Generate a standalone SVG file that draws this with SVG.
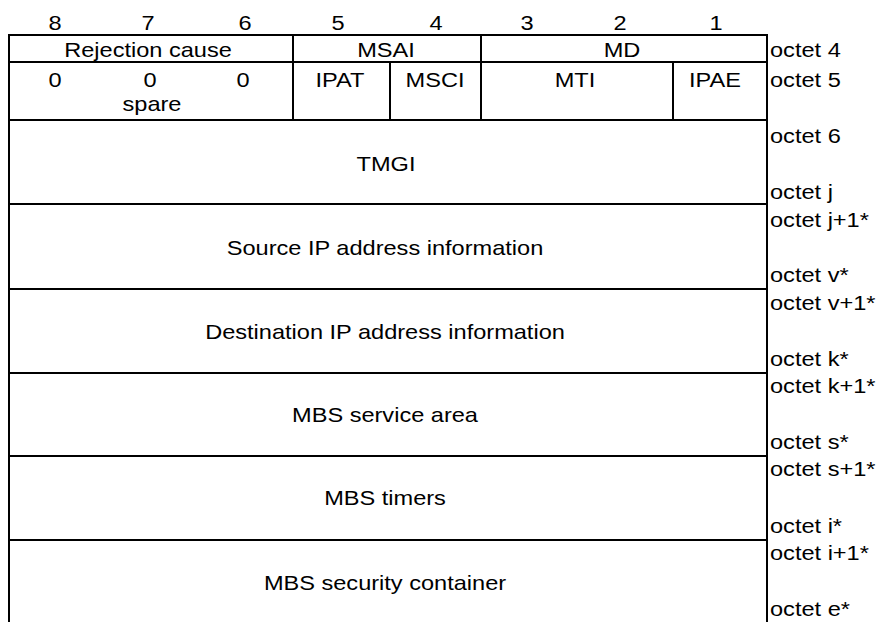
<svg xmlns="http://www.w3.org/2000/svg" width="878" height="622" viewBox="0 0 878 622">
<style>
rect{fill:#fff;stroke:#000;stroke-width:2}
text{font-family:"Liberation Sans",Arial,sans-serif;font-size:20.5px;fill:#000}
.c{text-anchor:middle}
.l{text-anchor:start}
</style>
<rect x="0" y="0" width="878" height="622" style="stroke:none"/>
<g id="bits">
<text class="c" transform="translate(55,29.5) scale(1.15,1)">8</text>
<text class="c" transform="translate(148,29.5) scale(1.15,1)">7</text>
<text class="c" transform="translate(245,29.5) scale(1.15,1)">6</text>
<text class="c" transform="translate(338,29.5) scale(1.15,1)">5</text>
<text class="c" transform="translate(436,29.5) scale(1.15,1)">4</text>
<text class="c" transform="translate(527,29.5) scale(1.15,1)">3</text>
<text class="c" transform="translate(620,29.5) scale(1.15,1)">2</text>
<text class="c" transform="translate(716,29.5) scale(1.15,1)">1</text>
</g>
<g id="rejection-cause"><rect x="9" y="35" width="284" height="27"/><text class="c" transform="translate(148,57) scale(1.15,1)">Rejection cause</text></g>
<g id="msai"><rect x="293" y="35" width="188" height="27"/><text class="c" transform="translate(386,57) scale(1.15,1)">MSAI</text></g>
<g id="md"><rect x="481" y="35" width="286" height="27"/><text class="c" transform="translate(622,57) scale(1.15,1)">MD</text></g>
<g id="spare"><rect x="9" y="62" width="284" height="58"/>
<text class="c" transform="translate(55,87) scale(1.15,1)">0</text>
<text class="c" transform="translate(150,87) scale(1.15,1)">0</text>
<text class="c" transform="translate(243,87) scale(1.15,1)">0</text>
<text class="c" transform="translate(152,111) scale(1.15,1)">spare</text></g>
<g id="ipat"><rect x="293" y="62" width="97" height="58"/><text class="c" transform="translate(340,87) scale(1.15,1)">IPAT</text></g>
<g id="msci"><rect x="390" y="62" width="91" height="58"/><text class="c" transform="translate(435,87) scale(1.15,1)">MSCI</text></g>
<g id="mti"><rect x="481" y="62" width="192" height="58"/><text class="c" transform="translate(575,87) scale(1.15,1)">MTI</text></g>
<g id="ipae"><rect x="673" y="62" width="94" height="58"/><text class="c" transform="translate(715,87) scale(1.15,1)">IPAE</text></g>
<g id="tmgi"><rect x="9" y="120" width="758" height="84"/><text class="c" transform="translate(386,170.5) scale(1.15,1)">TMGI</text></g>
<g id="source-ip"><rect x="9" y="204" width="758" height="85"/><text class="c" transform="translate(385,255) scale(1.15,1)">Source IP address information</text></g>
<g id="destination-ip"><rect x="9" y="289" width="758" height="84"/><text class="c" transform="translate(385,339) scale(1.15,1)">Destination IP address information</text></g>
<g id="mbs-service-area"><rect x="9" y="373" width="758" height="83"/><text class="c" transform="translate(385,422) scale(1.15,1)">MBS service area</text></g>
<g id="mbs-timers"><rect x="9" y="456" width="758" height="84"/><text class="c" transform="translate(385,505) scale(1.15,1)">MBS timers</text></g>
<g id="mbs-security-container"><rect x="9" y="540" width="758" height="90"/><text class="c" transform="translate(385,590) scale(1.15,1)">MBS security container</text></g>
<g id="octets">
<text class="l" transform="translate(770,57) scale(1.15,1)">octet 4</text>
<text class="l" transform="translate(770,87) scale(1.15,1)">octet 5</text>
<text class="l" transform="translate(770,143) scale(1.15,1)">octet 6</text>
<text class="l" transform="translate(770,199) scale(1.15,1)">octet j</text>
<text class="l" transform="translate(770,226.5) scale(1.15,1)">octet j+1*</text>
<text class="l" transform="translate(770,282) scale(1.15,1)">octet v*</text>
<text class="l" transform="translate(770,310) scale(1.15,1)">octet v+1*</text>
<text class="l" transform="translate(770,366) scale(1.15,1)">octet k*</text>
<text class="l" transform="translate(770,393) scale(1.15,1)">octet k+1*</text>
<text class="l" transform="translate(770,449) scale(1.15,1)">octet s*</text>
<text class="l" transform="translate(770,476) scale(1.15,1)">octet s+1*</text>
<text class="l" transform="translate(770,533) scale(1.15,1)">octet i*</text>
<text class="l" transform="translate(770,560) scale(1.15,1)">octet i+1*</text>
<text class="l" transform="translate(770,616) scale(1.15,1)">octet e*</text>
</g>
<g id="connectors"/>
</svg>
